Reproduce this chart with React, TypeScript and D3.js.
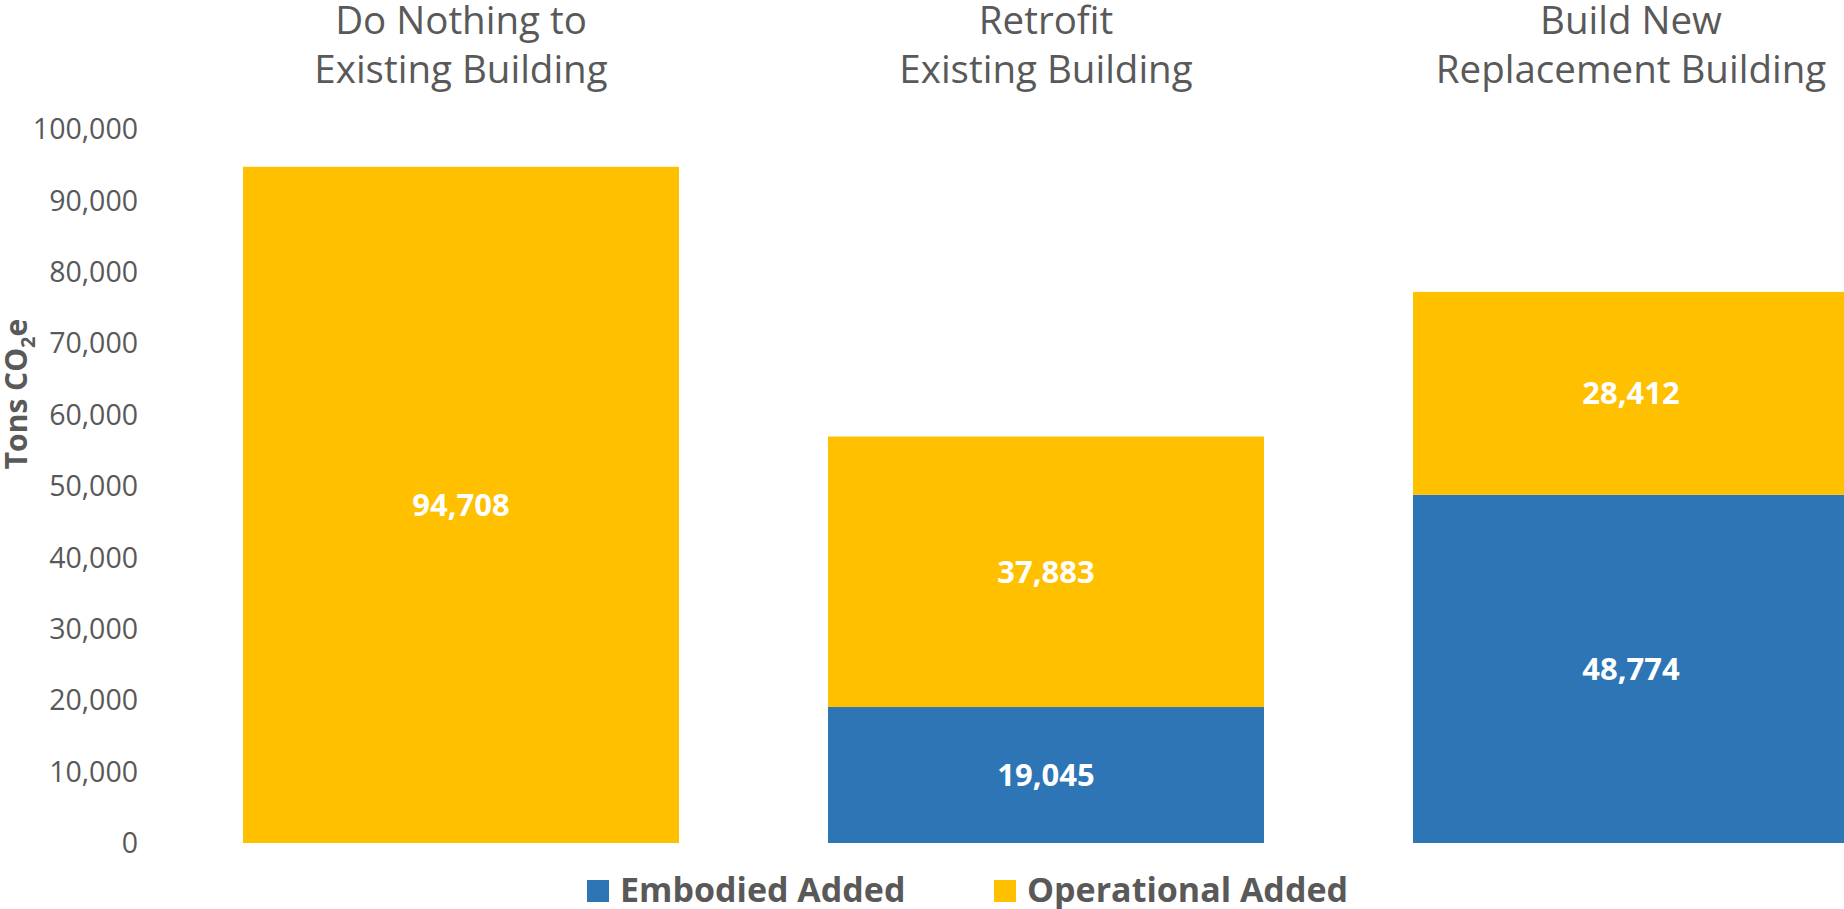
import React from "react";
import * as d3 from "d3";

const categories = ["Do Nothing to|Existing Building", "Retrofit|Existing Building", "Build New|Replacement Building"];
const embodied = [0, 19045, 48774];
const operational = [94708, 37883, 28412];
const yTicks = [0, 10000, 20000, 30000, 40000, 50000, 60000, 70000, 80000, 90000, 100000];
const seriesNames = ["Embodied Added", "Operational Added"];
const seriesColors = ["#2E75B6", "#FFC000"];

const W = 1844;
const H = 909;
const FONT = "'Open Sans', 'Noto Sans', sans-serif";
const GRAY = "#595959";

export default function App() {
  const x = d3.scaleBand<number>().domain([0, 1, 2]).range([243, 243 + 3 * 585]).paddingInner(149 / 585).paddingOuter(0);
  const bw = 436;
  const bandStart = (i: number) => 243 + i * 585;
  const y = d3.scaleLinear().domain([0, 100000]).range([843, 129]);
  const fmt = d3.format(",");

  const stacked = categories.map((_, i) => {
    const segs = [] as { y0: number; y1: number; v: number; s: number }[];
    let acc = 0;
    [embodied[i], operational[i]].forEach((v, s) => {
      if (v > 0) segs.push({ y0: acc, y1: acc + v, v, s });
      acc += v;
    });
    return segs;
  });
  void x;

  return (
    <svg width={W} height={H} style={{ position: "absolute", left: 0, top: 0, background: "#fff" }} fontFamily={FONT}>
      {yTicks.map((t) => (
        <text key={t} x={138} y={y(t)} dy="0.36em" textAnchor="end" fontSize={28.5} fill={GRAY}>
          {fmt(t)}
        </text>
      ))}
      <text transform={`translate(27,394) rotate(-90)`} textAnchor="middle" fontSize={30} fontWeight={700} fill={GRAY}>
        Tons CO<tspan fontSize={20} dy={8}>2</tspan><tspan dy={-8}>e</tspan>
      </text>
      {categories.map((c, i) => {
        const cx = bandStart(i) + bw / 2;
        const lines = c.split("|");
        return (
          <g key={c}>
            {lines.map((l, j) => (
              <text key={j} x={cx} y={34 + j * 49} textAnchor="middle" fontSize={38.5} fill={GRAY}>
                {l}
              </text>
            ))}
            {stacked[i].map((sg) => (
              <g key={sg.s}>
                <rect x={bandStart(i)} y={y(sg.y1)} width={bw} height={y(sg.y0) - y(sg.y1)} fill={seriesColors[sg.s]} />
                <text x={cx} y={(y(sg.y0) + y(sg.y1)) / 2} dy="0.36em" textAnchor="middle" fontSize={31} fontWeight={700} fill="#fff">
                  {fmt(sg.v)}
                </text>
              </g>
            ))}
          </g>
        );
      })}
      {seriesNames.map((n, i) => {
        const lx = [587, 994][i];
        return (
          <g key={n}>
            <rect x={lx} y={880} width={22} height={22} fill={seriesColors[i]} />
            <text x={lx + 33} y={902} fontSize={34} fontWeight={700} fill={GRAY}>
              {n}
            </text>
          </g>
        );
      })}
    </svg>
  );
}
